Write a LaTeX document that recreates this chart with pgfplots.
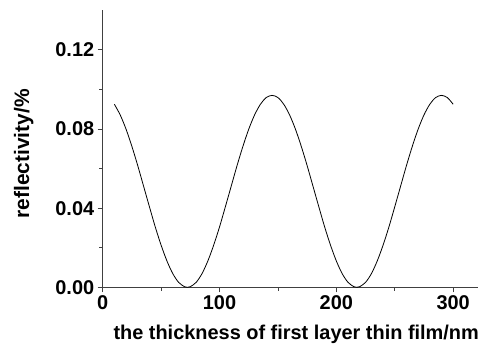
\documentclass[border=0pt]{standalone}
\usepackage{fontspec}
\setmainfont{Liberation Sans}
\usepackage{pgfplots}
\pgfplotsset{compat=1.18}
\begin{document}
\begin{tikzpicture}
\begin{axis}[
  name=ax,
  at={(0,0)}, anchor=origin,
  scale only axis,
  width=375bp, height=277bp,
  xmin=0, xmax=321, ymin=0, ymax=0.14,
  axis lines=left,
  axis line style={line width=0.8bp, color=black!75, -},
  xtick={0,100,200,300},
  minor xtick={50,150,250},
  ytick={0,0.04,0.08,0.12},
  minor ytick={0.02,0.06,0.10},
  tick align=outside,
  major tick length=5bp,
  minor tick length=3.5bp,
  tick style={line width=0.8bp, color=black!75},
  /pgf/number format/assume math mode=true,
  yticklabel style={/pgf/number format/fixed, /pgf/number format/fixed zerofill, /pgf/number format/precision=2},
  scaled y ticks=false,
  tick label style={font=\fontsize{20}{24}\selectfont\bfseries},
  label style={font=\fontsize{20}{24}\selectfont\bfseries},
  xlabel={the thickness of first layer thin film/nm},
  ylabel={reflectivity/\%},
  xlabel style={yshift=-8bp, xshift=6bp},
  ylabel style={yshift=15bp, xshift=-5bp, font=\fontsize{21}{24}\selectfont\bfseries},
  clip=false,
]
\addplot[black, line width=0.8bp, smooth] coordinates {
(10,0.0925) (15,0.0871) (20,0.0799) (25,0.0712) (30,0.0615) (35,0.0511)
(40,0.0407) (45,0.0305) (50,0.0213) (55,0.0133) (60,0.0069) (65,0.0025)
(70,0.0003) (72.5,0) (75,0.0003) (80,0.0025) (85,0.0069) (90,0.0133)
(95,0.0213) (100,0.0305) (105,0.0407) (110,0.0511) (115,0.0615) (120,0.0712)
(125,0.0799) (130,0.0871) (135,0.0925) (140,0.0959) (145,0.0970) (150,0.0959)
(155,0.0925) (160,0.0871) (165,0.0799) (170,0.0712) (175,0.0615) (180,0.0511)
(185,0.0407) (190,0.0305) (195,0.0213) (200,0.0133) (205,0.0069) (210,0.0025)
(215,0.0003) (217.5,0) (220,0.0003) (225,0.0025) (230,0.0069) (235,0.0133)
(240,0.0213) (245,0.0305) (250,0.0407) (255,0.0511) (260,0.0615) (265,0.0712)
(270,0.0799) (275,0.0871) (280,0.0925) (285,0.0959) (290,0.0970) (295,0.0959)
(300,0.0925)
};
\end{axis}
\pgfresetboundingbox
\path (-102.7bp,-63.7bp) rectangle (375.3bp,287.3bp);
\end{tikzpicture}
\end{document}
